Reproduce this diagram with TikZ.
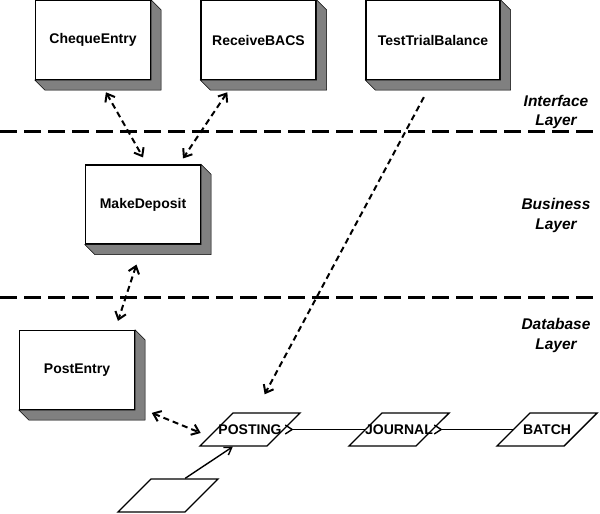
\documentclass[tikz,border=0pt]{standalone}
\usepackage{fontspec}
\setmainfont{Liberation Sans}
\usetikzlibrary{shapes.geometric,arrows.meta}

\begin{document}
\begin{tikzpicture}
  [x=1pt,y=-1pt,font=\bfseries\fontsize{14}{16}\selectfont,
   module/.style={rectangle,draw,line width=1.2pt,fill=white,minimum width=115pt,minimum height=79pt,inner sep=0pt},
   entity/.style={trapezium,trapezium left angle=45,trapezium right angle=135,draw,line width=1.4pt,
     inner xsep=17pt,inner ysep=11.5pt,text height=10pt,text depth=0pt,
     execute at begin node={\hbox to 0pt\bgroup\hss},execute at end node={\hss\egroup}},
   layer/.style={font=\bfseries\itshape\fontsize{15.5}{19.5}\selectfont,align=center},
   divider/.style={line width=3pt,dash pattern=on 17pt off 7pt},
   call/.style={line width=2pt,dash pattern=on 6pt off 4pt},
   flow/.style={line width=1.4pt}]
  \useasboundingbox (0,0) rectangle (600,514);

  % layer boundaries
  \draw[divider] (0,131) -- (600,131);
  \draw[divider] (0,297) -- (600,297);
  \node[layer] (ilayer) at (556,112) {Interface\\Layer};
  \node[layer] (blayer) at (556,215.5) {Business\\Layer};
  \node[layer] (dlayer) at (556,335.5) {Database\\Layer};

  % modules
  \node[module] (cheque) at (93,40) {ChequeEntry};
  \node[module] (bacs) at (258.5,40) {ReceiveBACS};
  \node[module,minimum width=134pt] (trial) at (433,40) {TestTrialBalance};
  \node[module] (deposit) at (143,204.5) {MakeDeposit};
  \node[module] (post) at (77,370) {PostEntry};

  \foreach \n in {cheque,bacs,trial,deposit,post}
    \filldraw[fill=black!50,line width=0.6pt] (\n.north east) -- ++(10,10) -- ([shift={(10,10)}]\n.south east)
      -- ([shift={(10,10)}]\n.south west) -- (\n.south west) -- (\n.south east) -- cycle;

  % tables
  \node[entity] (posting) at (250,429.5) {POSTING};
  \node[entity] (journal) at (399,429.5) {JOURNAL};
  \node[entity] (batch) at (547,429.5) {BATCH};
  \node[entity] (other) at (168,495.5) {};

  \tikzset{>={Straight Barb[length=7pt,width=11pt]}}
  \draw[call,<->,shorten <=14pt,shorten >=8pt] ([xshift=6pt]cheque.south) -- ([xshift=4pt]deposit.north);
  \draw[call,<->,shorten <=14.7pt,shorten >=7.2pt] ([xshift=-23pt]bacs.south) -- ([xshift=36pt]deposit.north);
  \draw[call,<->,shorten <=21pt,shorten >=9.5pt] (deposit.south) -- ([xshift=38pt]post.north);
  \draw[call,<->,shorten <=18pt,shorten >=16pt] ([yshift=4pt]post.south east) -- ([yshift=-9.5pt]posting.west);
  \draw[call,->,shorten <=19.3pt,shorten >=20.4pt] (trial.south) -- ([xshift=5pt]posting.north);

  \draw[flow,{Straight Barb[reversed,length=7pt,width=9pt]}-] (posting.east) -- (journal.west);
  \draw[flow,{Straight Barb[reversed,length=7pt,width=9pt]}-] (journal.east) -- (batch.west);
  \draw[flow,-{Straight Barb[length=7pt,width=9pt]}] (other.top side) -- (posting.bottom side);

\end{tikzpicture}
\end{document}
